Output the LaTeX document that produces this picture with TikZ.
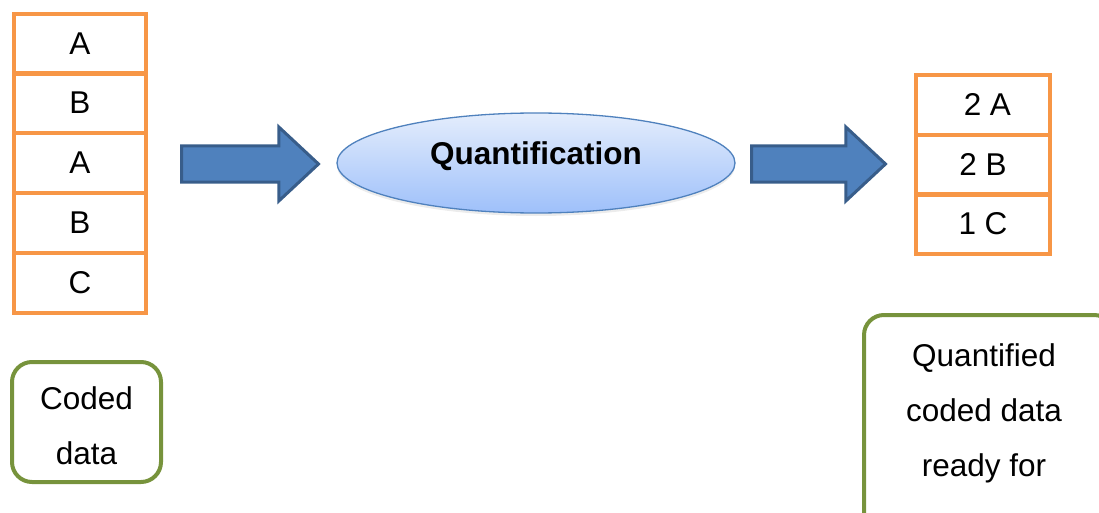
\documentclass[tikz,border=0pt]{standalone}
\usepackage{fontspec}
\setmainfont{Liberation Sans}
\usetikzlibrary{shapes.geometric,shapes.arrows,shadows}
\definecolor{orangeline}{HTML}{F79646}
\definecolor{greenline}{HTML}{77933C}
\definecolor{arrowfill}{HTML}{4F81BD}
\definecolor{arrowline}{HTML}{385D8A}
\definecolor{elltop}{RGB}{228,237,252}
\definecolor{ellbot}{RGB}{158,192,250}
\begin{document}
\begin{tikzpicture}[x=1pt,y=-1pt,
  every node/.style={font=\fontsize{31.5}{55}\selectfont},
  cell/.style={draw=orangeline,line width=4pt,rectangle,minimum height=60pt,inner sep=0pt},
  lcell/.style={cell,minimum width=132pt},
  rcell/.style={cell,minimum width=134pt},
  notebox/.style={draw=greenline,line width=4pt,rectangle,rounded corners=20pt,inner sep=0pt},
  blockarrow/.style={shape=single arrow,draw=arrowline,fill=arrowfill,line width=3pt,
    inner xsep=0pt,inner ysep=16.5pt,single arrow head extend=19pt,
    single arrow tip angle=86,single arrow head indent=0pt},
  process/.style={ellipse,draw=arrowfill,line width=1.3pt,top color=elltop,bottom color=ellbot,
    minimum width=398pt,minimum height=100pt,inner sep=0pt,
    drop shadow={opacity=0.15,shadow xshift=0pt,shadow yshift=-3pt}}
]
\useasboundingbox (0,0) rectangle (1099,513);
% left stack
\node[lcell] (l1) at (80,44) {\raisebox{-4pt}{A}};
\node[lcell] (l2) at (80,103) {\raisebox{-3pt}{B}};
\node[lcell] (l3) at (80,163) {\raisebox{-2pt}{A}};
\node[lcell] (l4) at (80,223) {\raisebox{-3pt}{B}};
\node[lcell] (l5) at (80,283) {\raisebox{-3pt}{C}};
% coded data
\node[notebox,minimum width=149pt,minimum height=120pt,
  label={[name=codedtext,yshift=-4pt,align=center]center:{Coded\\data}}] (coded) at (86.5,422) {};
% arrows
\node[blockarrow,anchor=tail,minimum height=137pt] (a1) at (180,164) {};
\node[process] (q) at (536,163) {\raisebox{20pt}{\textbf{Quantification}}};
\node[blockarrow,anchor=tail,minimum height=134pt] (a2) at (750,164) {};
% right stack
\node[rcell] (r1) at (983,105) {\raisebox{-3pt}{\ 2 A}};
\node[rcell] (r2) at (983,165) {\raisebox{-3pt}{2 B}};
\node[rcell] (r3) at (983,224) {\raisebox{-2pt}{1 C}};
% quantified box
\node[notebox,minimum width=250pt,minimum height=220pt,anchor=north west] (qbox) at (862,313) {};
\node[align=center] (qtext) at (984,413) {Quantified\\coded data\\ready for};
\end{tikzpicture}
\end{document}
